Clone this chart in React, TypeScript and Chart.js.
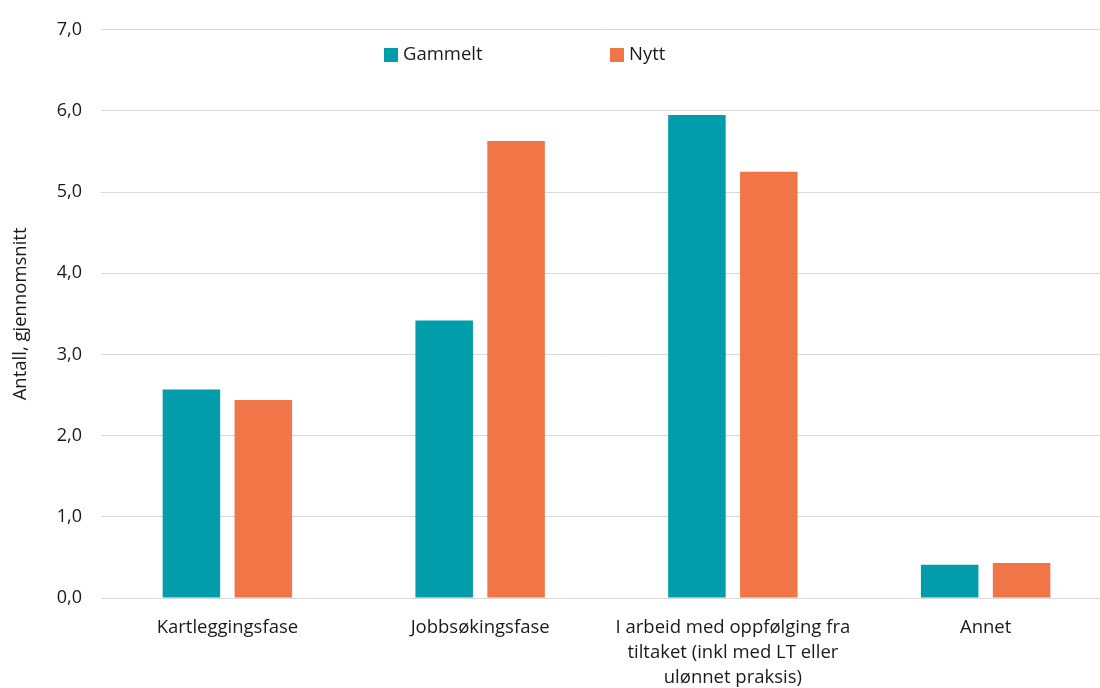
import React, { useEffect, useRef } from "react";
import { Chart, registerables } from "chart.js";

Chart.register(...registerables);

const categories: (string | string[])[] = [
  "Kartleggingsfase",
  "Jobbsøkingsfase",
  ["I arbeid med oppfølging fra", "tiltaket (inkl med LT eller", "ulønnet praksis)"],
  "Annet",
];
const gammelt = [2.57, 3.42, 5.95, 0.41];
const nytt = [2.44, 5.63, 5.25, 0.43];
const seriesNames = ["Gammelt", "Nytt"];
const colors = ["#019DAB", "#F07547"];
const yTitle = "Antall, gjennomsnitt";
const FONT = "'Open Sans', Lato, sans-serif";

const legendPlugin = {
  id: "customLegend",
  afterDraw(chart: any) {
    const ctx = chart.ctx;
    const items = [
      { x: 384, label: seriesNames[0], color: colors[0] },
      { x: 610, label: seriesNames[1], color: colors[1] },
    ];
    ctx.save();
    ctx.font = `18.5px ${FONT}`;
    ctx.textBaseline = "middle";
    ctx.textAlign = "left";
    for (const it of items) {
      ctx.fillStyle = it.color;
      ctx.fillRect(it.x, 48, 14, 14);
      ctx.fillStyle = "#1a1a1a";
      ctx.fillText(it.label, it.x + 19, 55);
    }
    ctx.restore();
  },
};

export default function App() {
  const ref = useRef<HTMLCanvasElement>(null);
  useEffect(() => {
    document.body.style.margin = "0";
    const chart = new Chart(ref.current!, {
      type: "bar",
      data: {
        labels: categories as any,
        datasets: [
          { label: seriesNames[0], data: gammelt, backgroundColor: colors[0], categoryPercentage: 0.569, barPercentage: 0.8 },
          { label: seriesNames[1], data: nytt, backgroundColor: colors[1], categoryPercentage: 0.569, barPercentage: 0.8 },
        ],
      },
      options: {
        animation: false,
        responsive: false,
        maintainAspectRatio: false,
        layout: { padding: { top: 15, right: 0, bottom: 0, left: 10 } },
        plugins: { legend: { display: false }, tooltip: { enabled: false } },
        scales: {
          x: {
            grid: { display: false, drawTicks: false },
            border: { color: "#D9D9D9", width: 1 },
            ticks: { color: "#1a1a1a", font: { family: FONT, size: 18.5, lineHeight: 1.35 }, padding: 17, maxRotation: 0, autoSkip: false },
            afterFit: (s: any) => { s.height = 90; },
          },
          y: {
            min: 0,
            max: 7,
            grid: { color: "#D9D9D9", drawTicks: false },
            border: { display: false },
            ticks: {
              stepSize: 1,
              color: "#1a1a1a",
              font: { family: FONT, size: 18 },
              padding: 19,
              callback: (v: any) => Number(v).toFixed(1).replace(".", ","),
            },
            title: { display: true, text: yTitle, color: "#1a1a1a", font: { family: FONT, size: 18.5 }, padding: 0 },
            afterFit: (s: any) => { s.width = 91; },
          },
        },
      },
      plugins: [legendPlugin],
    });
    return () => chart.destroy();
  }, []);
  return (
    <div style={{ position: "fixed", left: 0, top: 0, width: 1100, height: 688, overflow: "hidden" }}>
      <canvas ref={ref} width={1112} height={688} style={{ width: 1112, height: 688, display: "block" }} />
    </div>
  );
}
